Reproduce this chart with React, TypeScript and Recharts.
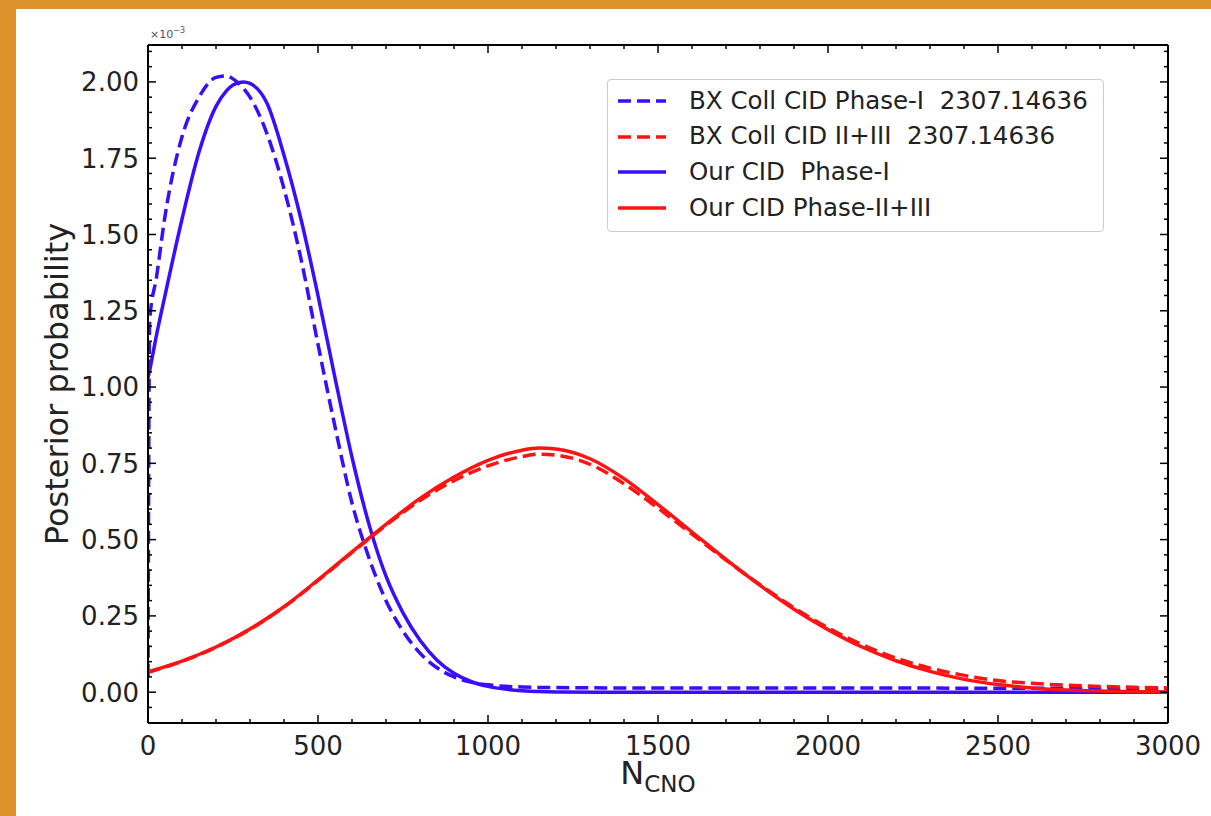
import { LineChart, Line, XAxis, YAxis, Legend } from 'recharts'

// N_CNO grid for the red (Phase-II+III) curves
const redN = [
  0, 100, 200, 300, 400, 500, 600, 700, 800, 900, 1000, 1100, 1150, 1200, 1300, 1400, 1500,
  1600, 1700, 1800, 1900, 2000, 2100, 2200, 2300, 2400, 2500, 2600, 2700, 2800, 2900, 3000,
]
const ourPhase23 = [
  0.067, 0.102, 0.148, 0.207, 0.28, 0.368, 0.46, 0.55, 0.635, 0.705, 0.76, 0.793, 0.8, 0.797,
  0.765, 0.7, 0.615, 0.525, 0.435, 0.35, 0.272, 0.205, 0.148, 0.103, 0.068, 0.042, 0.025, 0.014,
  0.007, 0.0035, 0.0018, 0.001,
]
const bxPhase23 = [
  0.065, 0.101, 0.147, 0.206, 0.279, 0.366, 0.458, 0.547, 0.628, 0.693, 0.742, 0.772, 0.78,
  0.777, 0.747, 0.683, 0.603, 0.518, 0.433, 0.352, 0.277, 0.211, 0.156, 0.112, 0.079, 0.055,
  0.038, 0.029, 0.023, 0.019, 0.016, 0.014,
]

// N_CNO grid for the blue (Phase-I) curves
const blueN = [
  0, 5, 25, 50, 100, 150, 200, 230, 250, 280, 300, 350, 400, 450, 500, 550, 600, 650, 700, 750,
  800, 850, 900, 950, 1000, 1100, 1200, 1400, 1700, 2000, 2500, 3000,
]
const ourPhase1 = [
  1.03, 1.055, 1.17, 1.3, 1.55, 1.77, 1.92, 1.97, 1.99, 2.0, 1.995, 1.93, 1.76, 1.55, 1.3, 1.03,
  0.77, 0.55, 0.38, 0.26, 0.17, 0.105, 0.062, 0.035, 0.019, 0.005, 0.001, 0, 0, 0, 0, 0,
]
const bxPhase1 = [
  0.05, 1.22, 1.36, 1.56, 1.82, 1.95, 2.015, 2.02, 2.01, 1.98, 1.95, 1.83, 1.65, 1.42, 1.14,
  0.87, 0.62, 0.44, 0.3, 0.2, 0.128, 0.08, 0.05, 0.033, 0.024, 0.017, 0.015, 0.014, 0.014,
  0.014, 0.013, 0.013,
]

const seriesNames = [
  'BX Coll CID Phase-I  2307.14636',
  'BX Coll CID II+III  2307.14636',
  'Our CID  Phase-I',
  'Our CID Phase-II+III',
]

const xMajorTicks = [0, 500, 1000, 1500, 2000, 2500, 3000]
const yMajorTicks = [0, 0.25, 0.5, 0.75, 1.0, 1.25, 1.5, 1.75, 2.0]

// minor ticks every 100 / 0.05, like matplotlib's AutoMinorLocator
const xTicks = Array.from({ length: 31 }, (_, i) => i * 100)
const yTicks = Array.from({ length: 45 }, (_, i) => Math.round((-0.1 + i * 0.05) * 100) / 100)

const X_DOMAIN = [0, 3000]
const Y_DOMAIN = [-0.101, 2.121]

const BLUE = '#3a0dff'
const RED = '#ff1212'
const INK = '#222222'
const FONT = '"DejaVu Sans", sans-serif'

const toPoints = (xs: number[], ys: number[]) => xs.map((n, i) => ({ n, p: ys[i] }))

const isMajorX = (v: number) => xMajorTicks.includes(v)
const isMajorY = (v: number) => yMajorTicks.some(t => Math.abs(t - v) < 1e-6)

function BottomTick(props: any) {
  const { x, y, payload } = props
  const axisY = y - 12
  const major = isMajorX(payload.value)
  return (
    <g>
      <line x1={x} x2={x} y1={axisY} y2={axisY - (major ? 8 : 4)} stroke="#000" strokeWidth={1.5} />
      {major && (
        <text x={x} y={y} dy="0.76em" textAnchor="middle" fontSize={26} fill={INK} fontFamily={FONT}>
          {payload.value}
        </text>
      )}
    </g>
  )
}

function LeftTick(props: any) {
  const { x, y, payload } = props
  const axisX = x + 9
  const major = isMajorY(payload.value)
  return (
    <g>
      <line x1={axisX} x2={axisX + (major ? 8 : 4)} y1={y} y2={y} stroke="#000" strokeWidth={1.5} />
      {major && (
        <text x={x} y={y} dy="0.36em" textAnchor="end" fontSize={26} fill={INK} fontFamily={FONT}>
          {payload.value.toFixed(2)}
        </text>
      )}
    </g>
  )
}

function TopTick(props: any) {
  const { x, y, payload } = props
  const len = isMajorX(payload.value) ? 8 : 4
  return <line x1={x} x2={x} y1={y} y2={y + len} stroke="#000" strokeWidth={1.5} />
}

function RightTick(props: any) {
  const { x, y, payload } = props
  const len = isMajorY(payload.value) ? 8 : 4
  return <line x1={x} x2={x - len} y1={y} y2={y} stroke="#000" strokeWidth={1.5} />
}

function YTitle(props: any) {
  const { viewBox } = props
  const cx = viewBox.x + 9
  const cy = viewBox.y + viewBox.height / 2
  return (
    <text
      x={cx}
      y={cy}
      transform={`rotate(-90 ${cx} ${cy})`}
      textAnchor="middle"
      dominantBaseline="central"
      fontSize={32}
      fill={INK}
      fontFamily={FONT}
    >
      Posterior probability
    </text>
  )
}

function XTitle(props: any) {
  const { viewBox } = props
  const cx = viewBox.x + viewBox.width / 2
  return (
    <text x={cx} y={viewBox.y + 61} textAnchor="middle" fontSize={32} fill={INK} fontFamily={FONT}>
      N
      <tspan fontSize={23} dy={8}>
        CNO
      </tspan>
    </text>
  )
}

function MplLegend({ payload }: any) {
  const rows = [...(payload ?? [])].sort(
    (a: any, b: any) => seriesNames.indexOf(a.value) - seriesNames.indexOf(b.value),
  )
  return (
    <div
      style={{
        width: 497,
        height: 153,
        boxSizing: 'border-box',
        border: '1px solid #cccccc',
        borderRadius: 4,
        background: 'rgba(255,255,255,0.8)',
        padding: '3px 0 0 0',
        fontFamily: FONT,
      }}
    >
      {rows.map((entry: any) => (
        <div key={entry.value} style={{ display: 'flex', alignItems: 'center', height: 35.7 }}>
          <svg width={81} height={10} style={{ flex: 'none' }}>
            <line
              x1={10}
              x2={58}
              y1={5}
              y2={5}
              stroke={entry.color}
              strokeWidth={3.5}
              strokeDasharray={entry.payload?.strokeDasharray}
            />
          </svg>
          <span style={{ fontSize: 24.5, color: INK, whiteSpace: 'pre', lineHeight: 1 }}>{entry.value}</span>
        </div>
      ))}
    </div>
  )
}

export default function App() {
  return (
    <div style={{ position: 'absolute', left: 0, top: 0, width: 1211, height: 816, background: '#de922c', overflow: 'hidden' }}>
      <div style={{ position: 'absolute', left: 16, top: 9, right: 0, bottom: 0, background: '#ffffff' }} />
      <div
        style={{
          position: 'absolute',
          left: 150,
          top: 26,
          fontSize: 11,
          color: '#555',
          fontFamily: FONT,
        }}
      >
        ×10<sup style={{ fontSize: 8 }}>−3</sup>
      </div>
      <div style={{ position: 'absolute', left: 0, top: 0 }}>
        <LineChart width={1211} height={816} margin={{ top: 44, right: 42, bottom: 43, left: 48 }}>
          <XAxis
            xAxisId="main"
            type="number"
            dataKey="n"
            domain={X_DOMAIN}
            allowDataOverflow
            ticks={xTicks}
            interval={0}
            height={50}
            tickSize={8}
            tickMargin={4}
            tickLine={false}
            axisLine={{ stroke: '#000', strokeWidth: 2 }}
            tick={<BottomTick />}
            label={<XTitle />}
          />
          <XAxis
            xAxisId="top"
            orientation="top"
            type="number"
            dataKey="n"
            domain={X_DOMAIN}
            allowDataOverflow
            ticks={xTicks}
            interval={0}
            height={1}
            tickSize={0}
            tickMargin={0}
            tickLine={false}
            axisLine={{ stroke: '#000', strokeWidth: 2 }}
            tick={<TopTick />}
          />
          <YAxis
            yAxisId="main"
            type="number"
            domain={Y_DOMAIN}
            allowDataOverflow
            ticks={yTicks}
            interval={0}
            width={100}
            tickSize={7}
            tickMargin={2}
            tickLine={false}
            axisLine={{ stroke: '#000', strokeWidth: 2 }}
            tick={<LeftTick />}
            label={<YTitle />}
          />
          <YAxis
            yAxisId="right"
            orientation="right"
            type="number"
            domain={Y_DOMAIN}
            allowDataOverflow
            ticks={yTicks}
            interval={0}
            width={1}
            tickSize={0}
            tickMargin={0}
            tickLine={false}
            axisLine={{ stroke: '#000', strokeWidth: 2 }}
            tick={<RightTick />}
          />
          <Legend
            layout="vertical"
            align="center"
            verticalAlign="middle"
            content={<MplLegend />}
            wrapperStyle={{ position: 'absolute', left: 607, top: 79, width: 497, height: 153 }}
          />
          <Line
            xAxisId="main"
            yAxisId="main"
            data={toPoints(blueN, bxPhase1)}
            dataKey="p"
            name={seriesNames[0]}
            type="monotone"
            stroke={BLUE}
            strokeWidth={3.5}
            strokeDasharray="13 6"
            dot={false}
            activeDot={false}
            legendType="line"
            isAnimationActive={false}
          />
          <Line
            xAxisId="main"
            yAxisId="main"
            data={toPoints(redN, bxPhase23)}
            dataKey="p"
            name={seriesNames[1]}
            type="monotone"
            stroke={RED}
            strokeWidth={3.5}
            strokeDasharray="13 6"
            dot={false}
            activeDot={false}
            legendType="line"
            isAnimationActive={false}
          />
          <Line
            xAxisId="main"
            yAxisId="main"
            data={toPoints(blueN, ourPhase1)}
            dataKey="p"
            name={seriesNames[2]}
            type="monotone"
            stroke={BLUE}
            strokeWidth={3.5}
            dot={false}
            activeDot={false}
            legendType="line"
            isAnimationActive={false}
          />
          {/* same domains as the main axes; bound to top/right so the frame axes get drawn */}
          <Line
            xAxisId="top"
            yAxisId="right"
            data={toPoints(redN, ourPhase23)}
            dataKey="p"
            name={seriesNames[3]}
            type="monotone"
            stroke={RED}
            strokeWidth={3.5}
            dot={false}
            activeDot={false}
            legendType="line"
            isAnimationActive={false}
          />
        </LineChart>
      </div>
    </div>
  )
}
